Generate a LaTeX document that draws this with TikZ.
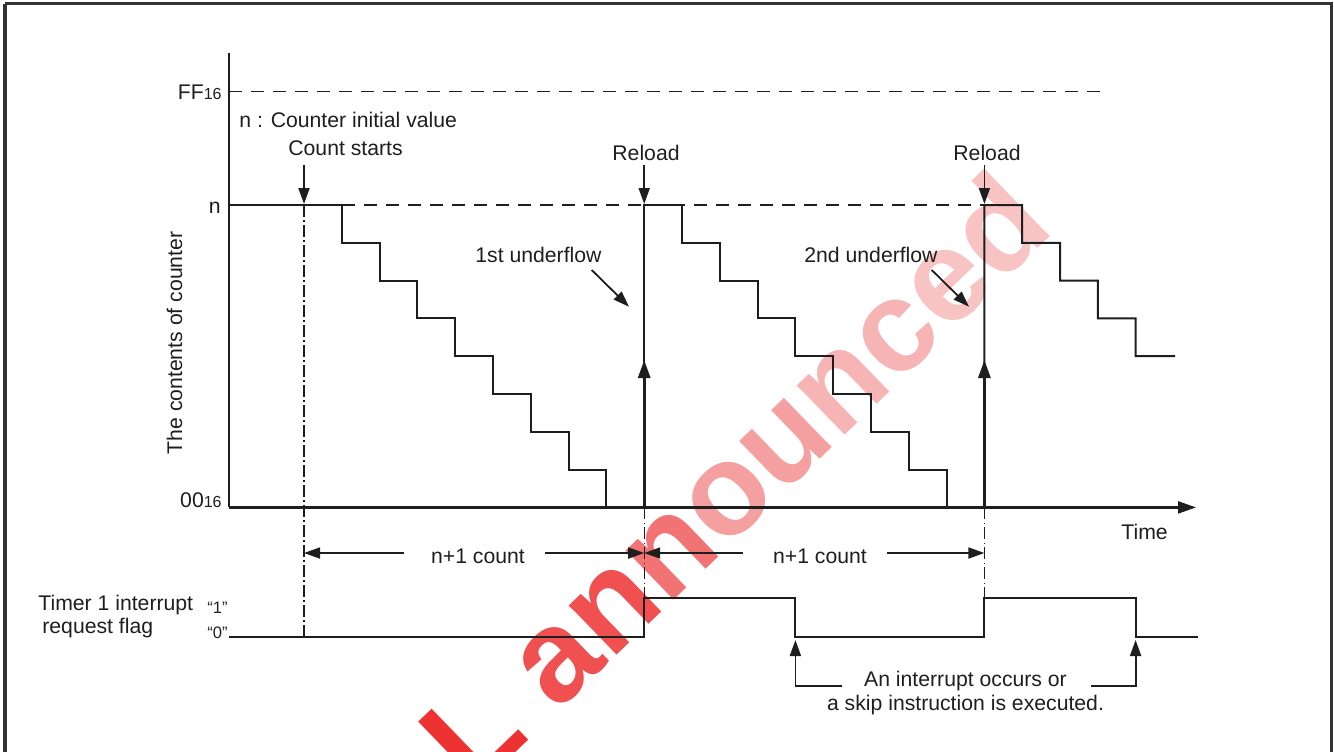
\documentclass[tikz,border=0pt]{standalone}
\usepackage{fontspec}
\setmainfont{Liberation Sans}
\usetikzlibrary{arrows.meta}
\definecolor{ink}{RGB}{30,30,30}
\definecolor{wmA}{RGB}{238,50,50}
\definecolor{wmB}{RGB}{240,80,80}
\definecolor{wmC}{RGB}{242,115,115}
\definecolor{wmD}{RGB}{245,160,160}
\definecolor{wmE}{RGB}{247,180,180}
\definecolor{wmF}{RGB}{248,195,195}
\begin{document}
\begin{tikzpicture}[x=0.5pt,y=-0.5pt,
  font=\fontsize{10.6}{12.7}\selectfont,
  lbl/.style={inner sep=0pt,text=ink},
  small/.style={font=\fontsize{8.3}{9}\selectfont},
  frame/.style={line width=1.6pt,draw=black!80},
  axis/.style={line width=1.1pt,draw=ink},
  stair/.style={line width=1pt,draw=ink},
  guide/.style={line width=0.6pt,draw=ink,dash pattern=on 6.5pt off 4.5pt},
  dashdot/.style={line width=0.6pt,draw=ink,dash pattern=on 6pt off 1.6pt on 0.8pt off 1.6pt},
  arr/.style={line width=0.9pt,draw=ink,-{Triangle[length=8pt,width=5.5pt]}},
  uparr/.style={line width=1.5pt,draw=ink,-{Triangle[length=9pt,width=6pt]}}]
\useasboundingbox (0,0) rectangle (1334,751);
\clip (0,0) rectangle (1334,751);
% watermark
\node[inner sep=0pt,anchor=base west,rotate=44,
  font=\fontsize{65}{70}\selectfont\bfseries] (wm) at (474.6,792.7)
  {\textcolor{wmA}{L} \textcolor{wmB}{a}\textcolor{wmB}{n}\textcolor{wmC}{n}\textcolor{wmD}{o}\textcolor{wmD}{u}\textcolor{wmE}{n}\textcolor{wmE}{c}\textcolor{wmF}{e}\textcolor{wmF}{d}};
% frame
\draw[frame] (5,3.7) -- (1331.5,3.7) -- (1331.5,800) (5,3.7) -- (5,800);
% guides
\draw[guide] (229,91.7) -- (1106,91.7);
\draw[guide] (341.8,205) -- (1022.2,205);
\draw[dashdot] (304,205) -- (304,636.7);
\draw[dashdot] (644.2,507.4) -- (644.2,598.3);
\draw[dashdot] (984.4,507.4) -- (984.4,598.3);
% axes
\draw[axis] (229,53) -- (229,507.4);
\draw[axis,-{Triangle[length=9pt,width=6pt]}] (229,507.4) -- (1196,507.4);
% staircases
\draw[stair] (229,205) -- (341.8,205) \foreach \i in {1,...,7}{ -- ++(0,37.8) -- ++(37.8,0)} -- ++(0,37.8);
\draw[stair] (644.2,507.4) -- (644.2,205) -- (682,205) \foreach \i in {1,...,7}{ -- ++(0,37.8) -- ++(37.8,0)} -- ++(0,37.8);
\draw[stair] (984.4,507.4) -- (984.4,205) -- (1022.2,205) \foreach \i in {1,...,3}{ -- ++(0,37.8) -- ++(37.8,0)} -- ++(0,37.8) -- (1175,356.2);
\draw[uparr] (644.2,507.4) -- (644.2,360);
\draw[uparr] (984.4,507.4) -- (984.4,360);
% flag
\draw[stair] (229,636.7) -- (644.2,636.7) -- (644.2,598.3) -- (795.4,598.3) -- (795.4,636.7)
  -- (984.4,636.7) -- (984.4,598.3) -- (1135.6,598.3) -- (1135.6,636.7) -- (1198,636.7);
% labels on axes
\node[lbl,anchor=base east] (ff) at (222,99) {FF{\fontsize{8}{9}\selectfont 16}};
\node[lbl,anchor=base east] (nlab) at (221,213) {n};
\node[lbl,anchor=base east] (zz) at (222,507) {00{\fontsize{8}{9}\selectfont 16}};
\node[lbl,anchor=base,rotate=90] (ylab) at (182,343) {The contents of counter};
\node[lbl,anchor=base west] (time) at (1121,539) {Time};
\node[lbl,anchor=base west] (init) at (239,127) {n : Counter initial value};
% count start
\node[lbl,anchor=base west] (cs) at (288,155) {Count starts};
\coordinate (csa) at (304,165);
\coordinate (csb) at (304,204);
\draw[arr] (csa) -- (csb);
% reloads
\node[lbl,anchor=base] (rl1) at (646,160) {Reload};
\node[lbl,anchor=base] (rl2) at (987,160) {Reload};
\coordinate (r1a) at (644.2,165);
\coordinate (r1b) at (644.2,204);
\coordinate (r2a) at (984.4,165);
\coordinate (r2b) at (984.4,204);
\draw[arr] (r1a) -- (r1b);
\draw[arr] (r2a) -- (r2b);
% underflows
\node[lbl,anchor=base west] (uf1) at (475,262) {1st underflow};
\node[lbl,anchor=base west] (uf2) at (804,262) {2nd underflow};
\coordinate (u1a) at (591.7,270);
\coordinate (u1b) at (629,306.7);
\coordinate (u2a) at (931.7,270);
\coordinate (u2b) at (969,306.7);
\draw[arr] (u1a) -- (u1b);
\draw[arr] (u2a) -- (u2b);
% n+1 count
\node[lbl,anchor=base] (c1) at (478,563) {n+1 count};
\node[lbl,anchor=base] (c2) at (820,563) {n+1 count};
\draw[arr] (404,553) -- (304,553);
\draw[arr] (545,553) -- (644.2,553);
\draw[arr] (742.7,553) -- (644.2,553);
\draw[arr] (887,553) -- (984.4,553);
% flag labels
\node[lbl,anchor=base west] (t1) at (38,610) {Timer 1 interrupt};
\node[lbl,anchor=base west] (t2) at (42,633) {request flag};
\node[lbl,small,anchor=base east] (one) at (228,613) {“1”};
\node[lbl,small,anchor=base east] (zero) at (228,638) {“0”};
% interrupt notes
\node[lbl,anchor=base] (int1) at (965.5,686) {An interrupt occurs or};
\node[lbl,anchor=base] (int2) at (965.5,710) {a skip instruction is executed.};
\draw[arr] (842,686) -- (795.4,686) -- (795.4,640);
\draw[arr] (1091,686) -- (1135.6,686) -- (1135.6,640);
\end{tikzpicture}
\end{document}
